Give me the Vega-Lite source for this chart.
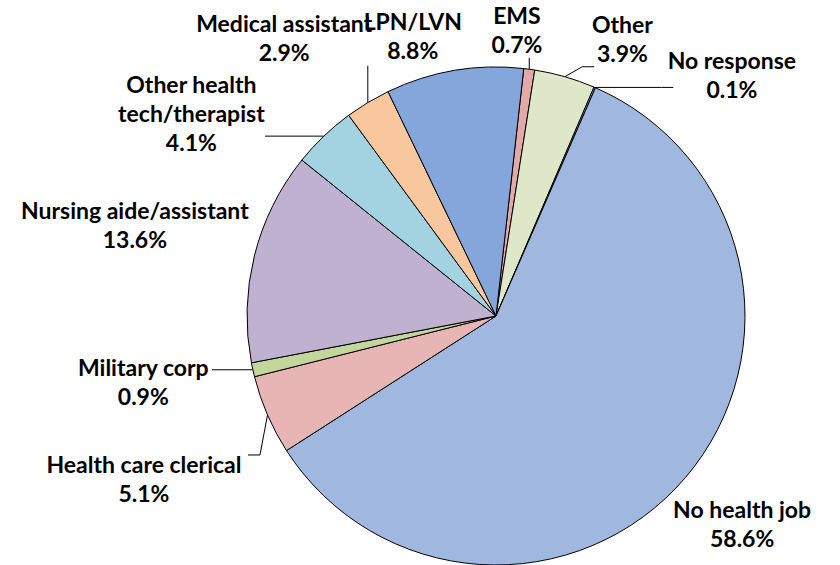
{
  "$schema": "https://vega.github.io/schema/vega-lite/v6.json",
  "width": 498,
  "height": 498,
  "autosize": {"type": "none"},
  "padding": {"left": 247, "top": 67, "right": 95, "bottom": 0},
  "background": "white",
  "config": {"view": {"stroke": null}},
  "params": [
    {"name": "rot", "value": 0.1117},
    {"name": "R", "value": 249}
  ],
  "data": {
    "values": [
      {"job": "EMS", "label": "EMS", "pct": 0.7, "ord": 1},
      {"job": "Other", "label": "Other", "pct": 3.9, "ord": 2},
      {"job": "No response", "label": "No response", "pct": 0.1, "ord": 3},
      {"job": "No health job", "label": "No health job", "pct": 58.6, "ord": 4},
      {"job": "Health care clerical", "label": "Health care clerical", "pct": 5.1, "ord": 5},
      {"job": "Military corp", "label": "Military corp", "pct": 0.9, "ord": 6},
      {"job": "Nursing aide/assistant", "label": "Nursing aide/assistant", "pct": 13.6, "ord": 7},
      {"job": "Other health tech/therapist", "label": "Other health\ntech/therapist", "pct": 4.1, "ord": 8},
      {"job": "Medical assistant", "label": "Medical assistant", "pct": 2.9, "ord": 9},
      {"job": "LPN/LVN", "label": "LPN/LVN", "pct": 8.8, "ord": 10}
    ]
  },
  "transform": [
    {"joinaggregate": [{"op": "sum", "field": "pct", "as": "total"}, {"op": "max", "field": "pct", "as": "maxp"}]},
    {"window": [{"op": "sum", "field": "pct", "as": "cum"}], "sort": [{"field": "ord"}], "frame": [null, 0]},
    {"calculate": "rot + 2*PI*(datum.cum - datum.pct)/datum.total", "as": "a0"},
    {"calculate": "rot + 2*PI*datum.cum/datum.total", "as": "a1"},
    {"calculate": "(datum.a0 + datum.a1)/2", "as": "mid"},
    {"calculate": "datum.pct == datum.maxp ? datum.mid : null", "as": "bm"},
    {"joinaggregate": [{"op": "max", "field": "bm", "as": "bigMid"}]},
    {"calculate": "datum.mid < datum.bigMid ? datum.mid + 2*PI : datum.mid", "as": "ca"},
    {"calculate": "datum.ca == datum.bigMid ? 0 : (14 + 7*pow(cos(datum.ca),2))*PI/180", "as": "g"},
    {"window": [{"op": "sum", "field": "g", "as": "G"}], "sort": [{"field": "ca"}], "frame": [null, 0]},
    {"calculate": "datum.ca - datum.G", "as": "yv"},
    {"window": [{"op": "max", "field": "yv", "as": "F"}], "sort": [{"field": "ca"}], "frame": [null, 0]},
    {"calculate": "datum.yv >= datum.F ? 1 : 0", "as": "nc"},
    {"window": [{"op": "sum", "field": "nc", "as": "cid"}], "sort": [{"field": "ca"}], "frame": [null, 0]},
    {"joinaggregate": [{"op": "mean", "field": "yv", "as": "ym"}], "groupby": ["cid"]},
    {"calculate": "datum.ym + datum.G", "as": "la"},
    {"calculate": "datum.label + '\\n' + format(datum.pct, '.1f') + '%'", "as": "txt"},
    {"calculate": "max(length(split(datum.label,'\\n')[0]), length(peek(split(datum.label,'\\n'))), length(format(datum.pct,'.1f'))+1)", "as": "nch"},
    {"calculate": "length(split(datum.label,'\\n')) + 1", "as": "nl"},
    {"calculate": "datum.nch * 5.05", "as": "hw"},
    {"calculate": "(datum.nl - 1) * 14.5 + 7.5", "as": "hh"},
    {"calculate": "datum.pct < 6", "as": "ld"},
    {"calculate": "R + 10 + abs(sin(datum.la))*datum.hw + abs(cos(datum.la))*datum.hh + (datum.ld ? 32*abs(sin(datum.la)) : 0)", "as": "lr"},
    {"calculate": "datum.lr * sin(datum.la)", "as": "lx"},
    {"calculate": "-datum.lr * cos(datum.la)", "as": "ly"},
    {"calculate": "datum.ly - (datum.nl - 1) * 14.5", "as": "ty"},
    {"calculate": "R * sin(datum.mid)", "as": "ex"},
    {"calculate": "-R * cos(datum.mid)", "as": "ey"},
    {"calculate": "clamp(datum.ex, datum.lx - datum.hw - 3, datum.lx + datum.hw + 3)", "as": "px"},
    {"calculate": "clamp(datum.ey, datum.ly - datum.hh - 4, datum.ly + datum.hh + 4)", "as": "py"},
    {"calculate": "datum.px + (datum.ex > datum.px ? 12 : (datum.ex < datum.px ? -12 : 0))", "as": "kx"}
  ],
  "layer": [
    {
      "mark": {"type": "arc", "stroke": "#000000", "strokeWidth": 1},
      "encoding": {
        "theta": {"field": "a0", "type": "quantitative", "scale": null},
        "theta2": {"field": "a1"},
        "color": {
          "field": "job",
          "type": "nominal",
          "legend": null,
          "scale": {
            "domain": ["EMS", "Other", "No response", "No health job", "Health care clerical", "Military corp", "Nursing aide/assistant", "Other health tech/therapist", "Medical assistant", "LPN/LVN"],
            "range": ["#e2a9a8", "#dfe7c9", "#8ea9d8", "#a0b8df", "#e6b5b4", "#c3d69b", "#bfb1d0", "#a3d3e0", "#f9c79d", "#85a6da"]
          }
        }
      }
    },
    {
      "transform": [{"filter": "datum.ld"}],
      "mark": {"type": "rule", "color": "#000000", "strokeWidth": 1},
      "encoding": {
        "x": {"field": "ex", "type": "quantitative", "scale": {"domain": [-249, 249], "nice": false, "zero": false}, "axis": null},
        "y": {"field": "ey", "type": "quantitative", "scale": {"domain": [-249, 249], "nice": false, "zero": false, "reverse": true}, "axis": null},
        "x2": {"field": "kx"},
        "y2": {"field": "py"}
      }
    },
    {
      "transform": [{"filter": "datum.ld"}],
      "mark": {"type": "rule", "color": "#000000", "strokeWidth": 1},
      "encoding": {
        "x": {"field": "kx", "type": "quantitative", "scale": {"domain": [-249, 249], "nice": false, "zero": false}, "axis": null},
        "y": {"field": "py", "type": "quantitative", "scale": {"domain": [-249, 249], "nice": false, "zero": false, "reverse": true}, "axis": null},
        "x2": {"field": "px"},
        "y2": {"field": "py"}
      }
    },
    {
      "mark": {"type": "text", "font": "Lato", "fontWeight": "bold", "fontSize": 23, "lineHeight": 29, "lineBreak": "\n", "align": "center", "baseline": "middle", "color": "#000000"},
      "encoding": {
        "x": {"field": "lx", "type": "quantitative", "scale": {"domain": [-249, 249], "nice": false, "zero": false}, "axis": null},
        "y": {"field": "ty", "type": "quantitative", "scale": {"domain": [-249, 249], "nice": false, "zero": false, "reverse": true}, "axis": null},
        "text": {"field": "txt"}
      }
    }
  ]
}
